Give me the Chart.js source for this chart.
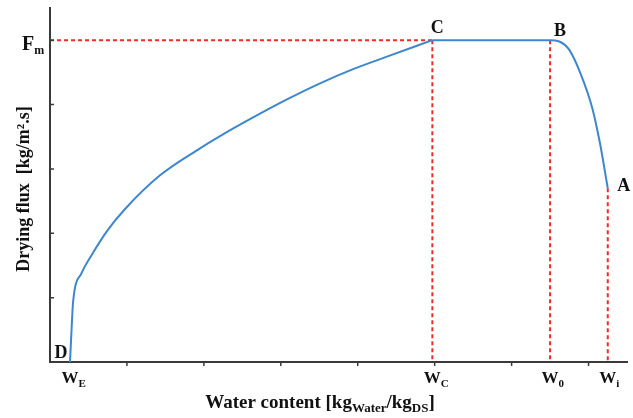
<!DOCTYPE html>
<html>
<head>
<meta charset="utf-8">
<script src="https://cdn.jsdelivr.net/npm/chart.js"></script>
<style>
  html, body { margin: 0; padding: 0; background: #fff; }
</style>
</head>
<body>
<canvas id="drying" width="633" height="418"></canvas>
<script>
// drying curve (x = water content, y = drying flux, arbitrary units)
// falling-rate part D -> C
const riseX = [0.26, 0.28, 0.30, 0.41, 0.54, 0.75, 0.97, 1.43, 1.95, 2.21, 2.64, 3.08, 3.51, 3.94, 4.37, 4.97];
const riseY = [0,    0.5,  0.93, 1.38, 1.66, 2.05, 2.37, 2.9,  3.32, 3.51, 3.8,  4.08, 4.33, 4.55, 4.74, 5.0];
// constant-rate + warm-up part C -> B -> A
const flatX = [4.97, 5.75, 6.5, 6.62, 6.75, 6.9,  7.05, 7.15, 7.25];
const flatY = [5.0,  5.0,  5.0, 4.98, 4.85, 4.47, 3.94, 3.39, 2.7];

// named positions on the axes
const xKeyBase = ['W', 'W', 'W', 'W'];
const xKeySub  = ['E', 'C', '0', 'i'];
const xKeyVal  = [0.26, 4.97, 6.5, 7.25];
const fluxMax  = 5;     // F_m
const fluxEnd  = 2.7;   // value at A

const pointNames = ['D', 'C', 'B', 'A'];
const pointX     = [0.26, 4.97, 6.5, 7.25];
const pointY     = [0, 5, 5, 2.7];

const xTicks = [1, 2, 3, 4, 5, 6, 7];
const yTicks = [1, 2, 3, 4, 5];

const BLUE = '#3d87cf';
const RED = '#f42a2a';
const AXIS = '#3a3a3a';
const SERIF = '"Liberation Serif", "DejaVu Serif", serif';

const toPts = (xs, ys) => xs.map((x, i) => ({x: x, y: ys[i]}));
const solid = (pts) => ({
    data: pts,
    borderColor: BLUE,
    borderWidth: 2,
    pointRadius: 0,
    showLine: true,
    fill: false,
    cubicInterpolationMode: 'monotone'
});
const dashed = (pts) => ({
    data: pts,
    borderColor: RED,
    borderWidth: 2,
    borderDash: [4, 3],
    pointRadius: 0,
    showLine: true,
    fill: false
});

const guides = [
    [{x: 0, y: fluxMax}, {x: xKeyVal[1], y: fluxMax}],
    [{x: xKeyVal[1], y: fluxMax}, {x: xKeyVal[1], y: 0}],
    [{x: xKeyVal[2], y: fluxMax}, {x: xKeyVal[2], y: 0}],
    [{x: xKeyVal[3], y: fluxEnd}, {x: xKeyVal[3], y: 0}]
];

// text with a subscript piece
const drawRich = (ctx, parts, x, y, align) => {
    let total = 0;
    parts.forEach(p => {
        ctx.font = `bold ${p.size}px ${SERIF}`;
        p.w = ctx.measureText(p.t).width;
        total += p.w;
    });
    let cx = align === 'center' ? x - total / 2 : x;
    ctx.textAlign = 'left';
    ctx.textBaseline = 'alphabetic';
    parts.forEach(p => {
        ctx.font = `bold ${p.size}px ${SERIF}`;
        ctx.fillText(p.t, cx, y + (p.dy || 0));
        cx += p.w;
    });
};

const annotate = {
    id: 'annotate',
    afterDraw(chart) {
        const ctx = chart.ctx;
        const xs = chart.scales.x, ys = chart.scales.y;
        const area = chart.chartArea;
        ctx.save();
        // tick marks
        ctx.strokeStyle = AXIS;
        ctx.lineWidth = 1.5;
        ctx.beginPath();
        xTicks.forEach(v => {
            const px = xs.getPixelForValue(v);
            ctx.moveTo(px, area.bottom);
            ctx.lineTo(px, area.bottom + 4);
        });
        yTicks.forEach(v => {
            const py = ys.getPixelForValue(v);
            ctx.moveTo(area.left, py);
            ctx.lineTo(area.left + 4, py);
        });
        ctx.stroke();

        ctx.fillStyle = '#111';
        // W labels under the x axis
        xKeyVal.forEach((v, i) => {
            const px = xs.getPixelForValue(v);
            ctx.font = `bold 17px ${SERIF}`;
            const ww = ctx.measureText(xKeyBase[i]).width;
            drawRich(ctx, [
                {t: xKeyBase[i], size: 17},
                {t: xKeySub[i], size: 11, dy: 4}
            ], px - ww / 2, area.bottom + 21, 'left');
        });
        // F_m on the y axis
        const fy = ys.getPixelForValue(fluxMax);
        drawRich(ctx, [
            {t: 'F', size: 20},
            {t: 'm', size: 12, dy: 4}
        ], 22, fy + 10, 'left');

        // point letters
        ctx.font = `bold 18px ${SERIF}`;
        ctx.textAlign = 'center';
        ctx.textBaseline = 'alphabetic';
        const off = [[-9, -4], [5, -7], [10, -4], [16, 3]];
        pointNames.forEach((n, i) => {
            ctx.fillText(n, xs.getPixelForValue(pointX[i]) + off[i][0], ys.getPixelForValue(pointY[i]) + off[i][1]);
        });

        // axis titles
        drawRich(ctx, [
            {t: 'Water content [kg', size: 19},
            {t: 'Water', size: 13, dy: 4},
            {t: '/kg', size: 19},
            {t: 'DS', size: 13, dy: 4},
            {t: ']', size: 19}
        ], 320, 408, 'center');

        ctx.translate(29, 189);
        ctx.rotate(-Math.PI / 2);
        ctx.font = `bold 18px ${SERIF}`;
        ctx.textAlign = 'center';
        ctx.fillText('Drying flux  [kg/m\u00b2.s]', 0, 0);
        ctx.restore();
    }
};

new Chart(document.getElementById('drying').getContext('2d'), {
    type: 'scatter',
    data: {
        datasets: [
            solid(toPts(riseX, riseY)),
            solid(toPts(flatX, flatY))
        ].concat(guides.map(dashed))
    },
    options: {
        responsive: false,
        animation: false,
        layout: {padding: {left: 50, right: 6, top: 8, bottom: 56}},
        scales: {
            x: {
                type: 'linear',
                min: 0,
                max: 7.5,
                ticks: {display: false, stepSize: 1},
                grid: {display: false, drawTicks: false},
                border: {display: true, color: AXIS, width: 2}
            },
            y: {
                type: 'linear',
                min: 0,
                max: 5.5,
                ticks: {display: false, stepSize: 1},
                grid: {display: false, drawTicks: false},
                border: {display: true, color: AXIS, width: 2}
            }
        },
        plugins: {
            legend: {display: false},
            tooltip: {enabled: false}
        }
    },
    plugins: [annotate]
});
</script>
</body>
</html>
